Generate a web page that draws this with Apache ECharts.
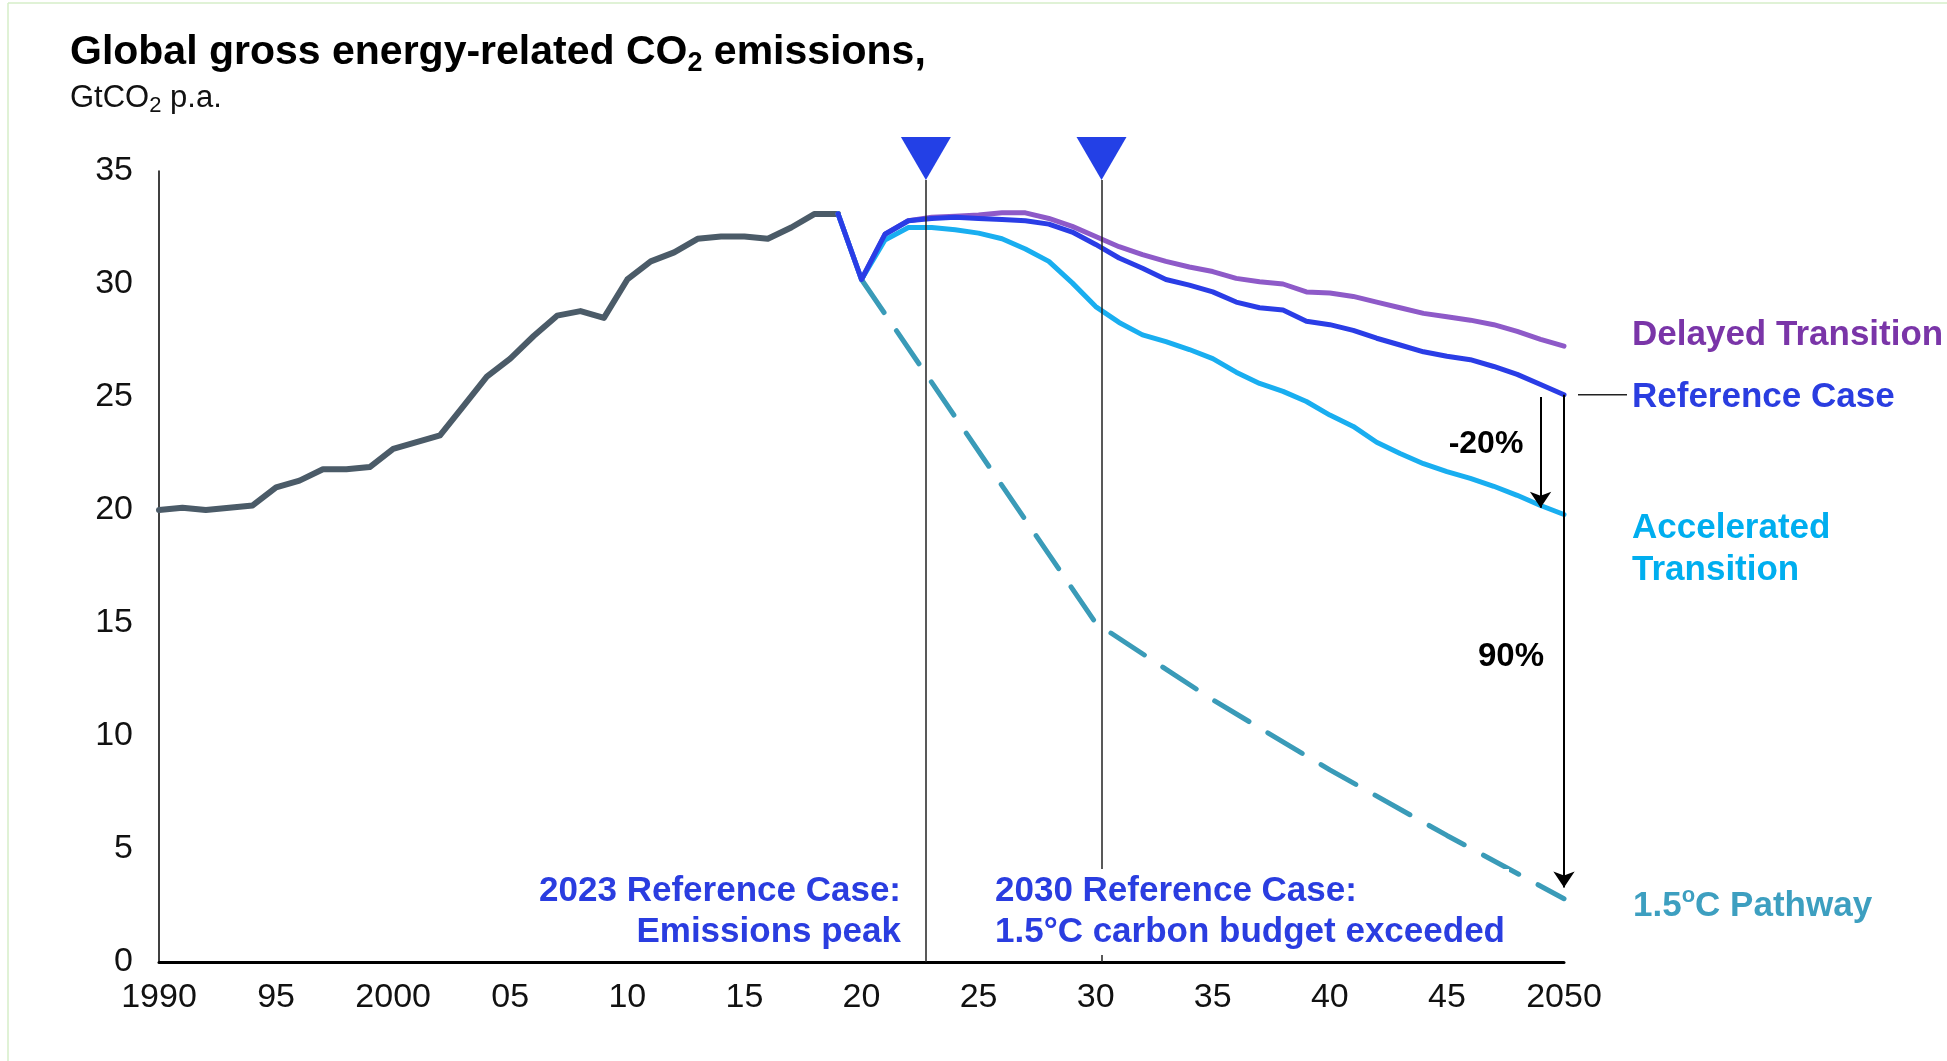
<!DOCTYPE html>
<html><head><meta charset="utf-8">
<script src="https://cdn.jsdelivr.net/npm/echarts@6/dist/echarts.min.js"></script>
<style>html,body{margin:0;padding:0;background:#fff}#c{width:1947px;height:1061px}</style>
</head><body><div id="c"></div>
<script>
// ---------- data ----------
const histYears = [1990,1991,1992,1993,1994,1995,1996,1997,1998,1999,2000,2001,2002,2003,2004,2005,2006,2007,2008,2009,2010,2011,2012,2013,2014,2015,2016,2017,2018,2019];
const historic = [20.0,20.1,20.0,20.1,20.2,21.0,21.3,21.8,21.8,21.9,22.7,23.0,23.3,24.6,25.9,26.7,27.7,28.6,28.8,28.5,30.2,31.0,31.4,32.0,32.1,32.1,32.0,32.5,33.1,33.1];

const scenarioYears = [2019,2020,2021,2022,2023,2024,2025,2026,2027,2028,2029,2030,2031,2032,2033,2034,2035,2036,2037,2038,2039,2040,2041,2042,2043,2044,2045,2046,2047,2048,2049,2050];
const referenceCase = [33.1,30.2,32.2,32.8,32.9,32.95,32.9,32.85,32.8,32.65,32.3,31.75,31.15,30.7,30.2,29.95,29.65,29.2,28.95,28.85,28.35,28.2,27.95,27.6,27.3,27.0,26.8,26.65,26.35,26.0,25.55,25.1];
const delayedTransition = [33.1,30.2,32.2,32.8,32.95,33.0,33.05,33.15,33.15,32.9,32.55,32.1,31.65,31.3,31.0,30.75,30.55,30.25,30.1,30.0,29.65,29.6,29.45,29.2,28.95,28.7,28.55,28.4,28.2,27.9,27.55,27.25];
const acceleratedTransition = [33.1,30.2,31.95,32.5,32.5,32.4,32.25,32.0,31.55,31.0,30.05,29.0,28.3,27.75,27.45,27.1,26.7,26.1,25.6,25.25,24.8,24.2,23.7,23.0,22.5,22.05,21.7,21.4,21.05,20.65,20.2,19.8];

const pathwayYears = [2020,2030,2035,2040,2045,2050];
const pathway15 = [30.2,15.0,11.6,8.5,5.6,2.8];

const xTickLabels = {1990:'1990',1995:'95',2000:'2000',2005:'05',2010:'10',2015:'15',2020:'20',2025:'25',2030:'30',2035:'35',2040:'40',2045:'45',2050:'2050'};

// annotation anchors (data coordinates)
const peakYear = 2022.75;
const budgetYear = 2030.25;
const arrow20 = {x: 2049, from: 25.0, to: 20.1};
const arrow90 = {x: 2050, from: 25.1, to: 3.3};

// ---------- chart ----------
const FONT = '"Liberation Sans", Arial, Helvetica, sans-serif';
const pairs = (xs, ys) => xs.map((x, i) => [x, ys[i]]);
const C = {
  hist: '#4b5b68', ref: '#2a3de6', del: '#8e5ac8', acc: '#19aef0', path: '#3a9bb8',
  refText: '#2a3de0', delText: '#7a35a8', accText: '#00aeef', pathText: '#3d9fc0'
};

const chart = echarts.init(document.getElementById('c'));
const line = (name, data, color, width, extra) => Object.assign({
  name, type: 'line', data, symbol: 'none', showSymbol: false, silent: true,
  lineStyle: {color, width, cap: 'round', join: 'round'}, itemStyle: {color}
}, extra || {});

chart.setOption({
  animation: false,
  backgroundColor: '#fff',
  grid: {left: 159, right: 383, top: 171, bottom: 99},
  xAxis: {
    type: 'value', min: 1990, max: 2050, interval: 5,
    axisLine: {lineStyle: {color: '#000', width: 3}},
    axisTick: {show: false}, splitLine: {show: false},
    axisLabel: {formatter: v => xTickLabels[v] || '', fontSize: 34, color: '#111', fontFamily: FONT, margin: 19}
  },
  yAxis: {
    type: 'value', min: 0, max: 35, interval: 5,
    axisLine: {show: true, lineStyle: {color: '#000', width: 1.5}},
    axisTick: {show: false}, splitLine: {show: false},
    axisLabel: {fontSize: 34, color: '#111', margin: 26, fontFamily: FONT, padding: [6, 0, 0, 0]}
  },
  series: [
    line('Historic', pairs(histYears, historic), C.hist, 6),
    line('Delayed Transition', pairs(scenarioYears, delayedTransition), C.del, 5),
    line('Accelerated Transition', pairs(scenarioYears, acceleratedTransition), C.acc, 5),
    line('1.5°C Pathway', pairs(pathwayYears, pathway15), C.path, 5, {lineStyle: {color: C.path, width: 5, type: [40, 22], cap: 'round'}}),
    line('Reference Case', pairs(scenarioYears, referenceCase), C.ref, 5, {
      markLine: {
        silent: true, animation: false, label: {show: false},
        lineStyle: {color: '#222', width: 1.5, type: 'solid'},
        data: [
          [{coord: [peakYear, 0], symbol: 'none'}, {coord: [peakYear, 34.6], symbol: 'none'}],
          [{coord: [budgetYear, 0], symbol: 'none'}, {coord: [budgetYear, 34.6], symbol: 'none'}],
          [{coord: [arrow20.x, arrow20.from], symbol: 'none', lineStyle: {color: '#000', width: 2}}, {coord: [arrow20.x, arrow20.to], symbol: 'arrow', symbolSize: 16}],
          [{coord: [arrow90.x, arrow90.from], symbol: 'none', lineStyle: {color: '#000', width: 2}}, {coord: [arrow90.x, arrow90.to], symbol: 'arrow', symbolSize: 16}]
        ]
      }
    })
  ]
});

// ---------- annotations (positioned from data coords where anchored) ----------
const px = v => chart.convertToPixel({gridIndex: 0}, v);
const pPeak = px([peakYear, 35]);
const pBudget = px([budgetYear, 35]);
const pRefEnd = px([2050, referenceCase[referenceCase.length - 1]]);
const tri = p => ({type: 'polygon', z: 100, silent: true,
  shape: {points: [[p[0] - 25, p[1] - 34], [p[0] + 25, p[1] - 34], [p[0], p[1] + 9]]},
  style: {fill: '#2340e6'}});
const txt = (x, y, text, o) => ({type: 'text', x, y, z: 100, silent: true,
  style: Object.assign({text, fontFamily: FONT, fontSize: 35, fontWeight: 'bold', fill: '#000',
    textAlign: 'left', textVerticalAlign: 'middle'}, o || {})});

chart.setOption({graphic: [
  {type: 'line', z: 100, silent: true, shape: {x1: 8, y1: 3, x2: 1947, y2: 3}, style: {stroke: '#d6eec8', lineWidth: 1.5}},
  {type: 'line', z: 100, silent: true, shape: {x1: 8, y1: 3, x2: 8, y2: 1061}, style: {stroke: '#d6eec8', lineWidth: 1.5}},
  tri(pPeak), tri(pBudget),
  {type: 'line', z: 100, silent: true, shape: {x1: pRefEnd[0] + 14, y1: pRefEnd[1], x2: pRefEnd[0] + 63, y2: pRefEnd[1]}, style: {stroke: '#222', lineWidth: 1.5}},
  txt(70, 53, '{a|Global gross energy-related CO}{s|2}{a| emissions,}', {rich: {
    a: {fontFamily: FONT, fontSize: 41, fontWeight: 'bold', fill: '#000', lineHeight: 48},
    s: {fontFamily: FONT, fontSize: 27, fontWeight: 'bold', fill: '#000', lineHeight: 20, verticalAlign: 'bottom'}}}),
  txt(70, 98, '{a|GtCO}{s|2}{a| p.a.}', {rich: {
    a: {fontFamily: FONT, fontSize: 31, fill: '#111', lineHeight: 38},
    s: {fontFamily: FONT, fontSize: 22, fill: '#111', lineHeight: 16, verticalAlign: 'bottom'}}}),
  txt(1632, 335, 'Delayed Transition', {fill: C.delText}),
  txt(1632, 397, 'Reference Case', {fill: C.refText}),
  txt(1632, 549, 'Accelerated\nTransition', {fill: C.accText, lineHeight: 42}),
  txt(1633, 906, '{a|1.5}{o|o}{a|C Pathway}', {rich: {
    a: {fontFamily: FONT, fontSize: 35, fontWeight: 'bold', fill: C.pathText, lineHeight: 42},
    o: {fontFamily: FONT, fontSize: 22, fontWeight: 'bold', fill: C.pathText, lineHeight: 22, verticalAlign: 'top'}}}),
  txt(901, 912, '2023 Reference Case:\nEmissions peak', {fill: C.refText, textAlign: 'right', lineHeight: 41}),
  txt(991, 912, '2030 Reference Case:\n1.5°C carbon budget exceeded', {fill: C.refText, lineHeight: 41, backgroundColor: '#fff', padding: [2, 4, 2, 4]}),
  txt(1486, 444, '-20%', {textAlign: 'center', fontSize: 32}),
  txt(1511, 657, '90%', {textAlign: 'center', fontSize: 33})
]});
</script></body></html>
